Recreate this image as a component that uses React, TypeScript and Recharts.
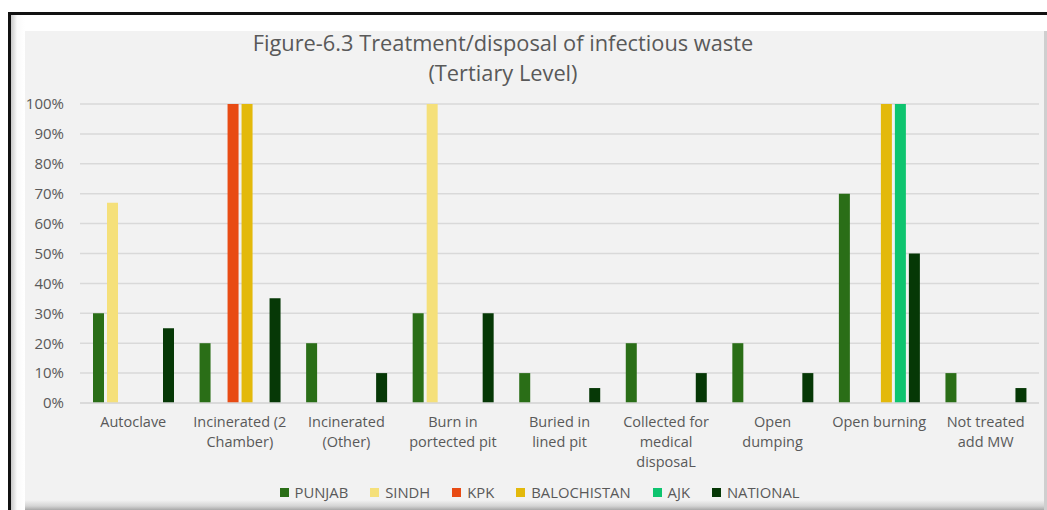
import { BarChart, Bar, XAxis, YAxis, CartesianGrid, Legend } from "recharts";

const categories = [
  "Autoclave",
  "Incinerated (2 Chamber)",
  "Incinerated (Other)",
  "Burn in portected pit",
  "Buried in lined pit",
  "Collected for medical disposaL",
  "Open dumping",
  "Open burning",
  "Not treated add MW",
];

// tick labels as they wrap in the original
const categoryLines = [
  ["Autoclave"],
  ["Incinerated (2", "Chamber)"],
  ["Incinerated", "(Other)"],
  ["Burn in", "portected pit"],
  ["Buried in", "lined pit"],
  ["Collected for", "medical", "disposaL"],
  ["Open", "dumping"],
  ["Open burning"],
  ["Not treated", "add MW"],
];

const punjab = [30, 20, 20, 30, 10, 20, 20, 70, 10];
const sindh = [67, 0, 0, 100, 0, 0, 0, 0, 0];
const kpk = [0, 100, 0, 0, 0, 0, 0, 0, 0];
const balochistan = [0, 100, 0, 0, 0, 0, 0, 100, 0];
const ajk = [0, 0, 0, 0, 0, 0, 0, 100, 0];
const national = [25, 35, 10, 30, 5, 10, 10, 50, 5];

const percentTicks = [0, 10, 20, 30, 40, 50, 60, 70, 80, 90, 100];

const series = [
  { key: "PUNJAB", values: punjab, color: "#2a6e17" },
  { key: "SINDH", values: sindh, color: "#f5e07a" },
  { key: "KPK", values: kpk, color: "#e84b14" },
  { key: "BALOCHISTAN", values: balochistan, color: "#e3b90b" },
  { key: "AJK", values: ajk, color: "#0ec46f" },
  { key: "NATIONAL", values: national, color: "#063806" },
];

const data = categories.map((name, i) => {
  const row: Record<string, string | number> = { name };
  series.forEach((s) => (row[s.key] = s.values[i]));
  return row;
});

const FONT = "'Open Sans', sans-serif";
const TEXT = "#595959";

function CategoryTick({ x, y, payload }: any) {
  const lines = categoryLines[categories.indexOf(payload.value)] || [payload.value];
  return (
    <g>
      {lines.map((line, i) => (
        <text key={i} x={x} y={y + 24 + i * 20} textAnchor="middle" fill={TEXT} fontSize={14.5} fontFamily={FONT}>
          {line}
        </text>
      ))}
    </g>
  );
}

function LegendContent() {
  return (
    <div style={{ display: "flex", justifyContent: "center", paddingLeft: 32, fontFamily: FONT, fontSize: 14.8, color: TEXT, lineHeight: "18px" }}>
      {series.map((s) => (
        <div key={s.key} style={{ display: "flex", alignItems: "center", marginRight: 22 }}>
          <span style={{ width: 9, height: 9, background: s.color, marginRight: 6, display: "inline-block" }} />
          <span>{s.key}</span>
        </div>
      ))}
    </div>
  );
}

export default function App() {
  return (
    <div style={{ position: "absolute", left: 0, top: 0, width: 1047, height: 510, background: "#fff", overflow: "hidden" }}>
      {/* outer frame */}
      <div style={{ position: "absolute", left: 8, top: 12, width: 1039, height: 498, borderLeft: "3px solid #111", borderTop: "3px solid #111", boxSizing: "border-box", background: "linear-gradient(to right, #c8c8c8 0px, #fafafa 6px, #fff 14px)" }} />
      <div style={{ position: "absolute", left: 25, top: 31, width: 1022, height: 479, background: "linear-gradient(to bottom, #f2f2f2 0px, #f2f2f2 469px, #d4d4d4 475px, #a8a8a8 479px)" }} />
      <div style={{ position: "absolute", left: 1044, top: 31, width: 3, height: 479, background: "#cfcfcf" }} />

      <div style={{ position: "absolute", left: 203, top: 28, width: 600, textAlign: "center", fontFamily: FONT, fontSize: 21.8, lineHeight: "30px", color: TEXT }}>
        Figure-6.3 Treatment/disposal of infectious waste
        <br />
        (Tertiary Level)
      </div>

      <div style={{ position: "absolute", left: 25, top: 31 }}>
        <BarChart width={1019} height={469} data={data} margin={{ top: 73, right: 5, left: 0, bottom: 0 }} barSize={11} barGap={3}>
          <CartesianGrid vertical={false} stroke="#d9d9d9" strokeWidth={1.5} />
          <XAxis dataKey="name" height={97} tickLine={false} tickSize={0} tickMargin={0} axisLine={{ stroke: "#d9d9d9", strokeWidth: 1.5 }} tick={<CategoryTick />} interval={0} />
          <YAxis width={55} domain={[0, 100]} ticks={percentTicks} tickFormatter={(v) => `${v}%`} axisLine={false} tickLine={false} tickSize={0} tickMargin={16} tick={{ fill: TEXT, fontSize: 15, fontFamily: FONT }} />
          <Legend layout="horizontal" verticalAlign="middle" wrapperStyle={{ top: 452, left: 0, width: 1019 }} content={<LegendContent />} />
          {series.map((s) => (
            <Bar key={s.key} dataKey={s.key} fill={s.color} isAnimationActive={false} />
          ))}
        </BarChart>
      </div>
    </div>
  );
}
